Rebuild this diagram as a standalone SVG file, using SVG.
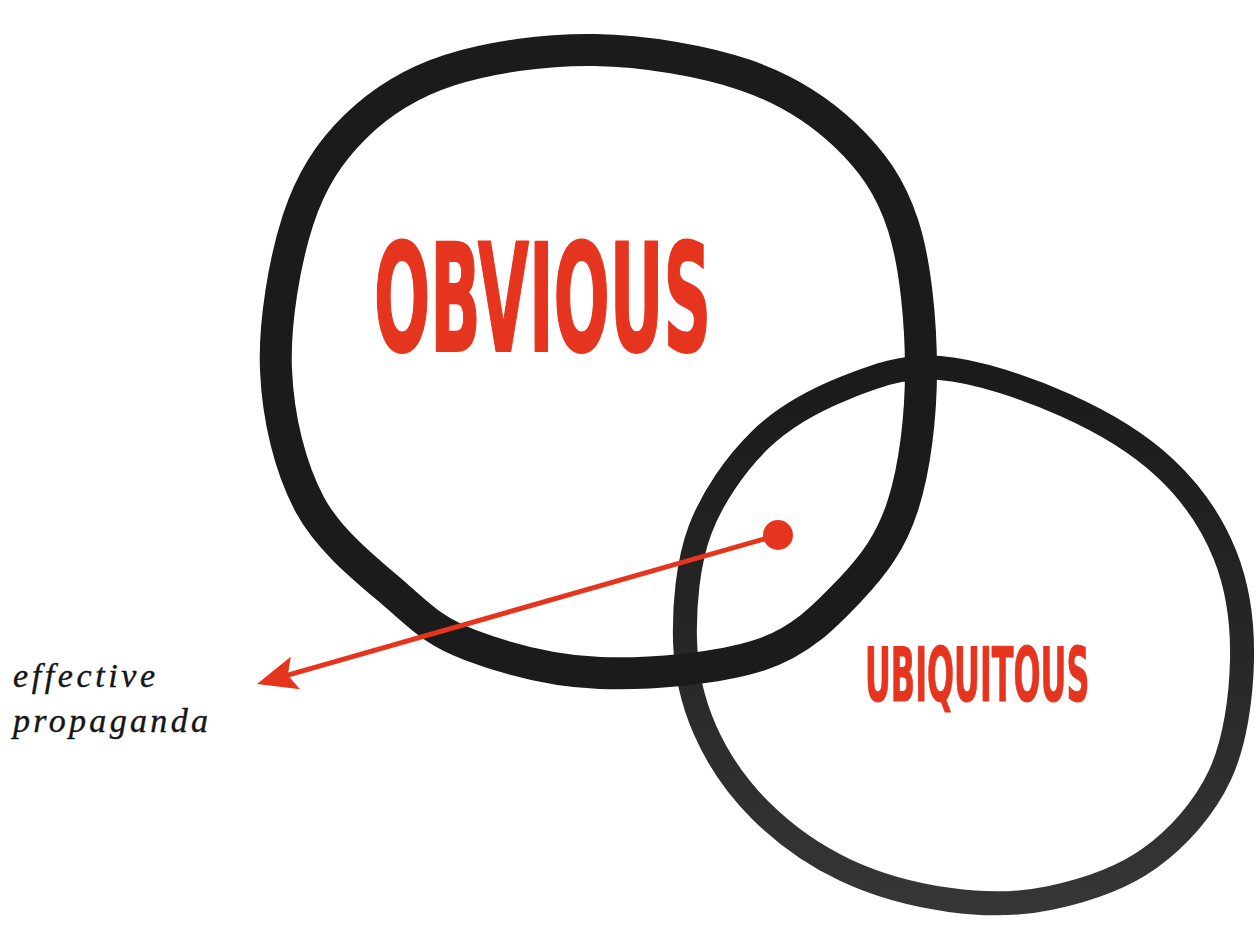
<svg xmlns="http://www.w3.org/2000/svg" width="1258" height="935" viewBox="0 0 1258 935">
  <style>
    .ring { fill: none; stroke-linejoin: round; stroke-linecap: round; }
    .big { stroke: #1b1b1b; stroke-width: 32; }
    .small { stroke: url(#smallShade); stroke-width: 24; }
    .label { fill: #e6351f; stroke: #e6351f; stroke-linejoin: round; font-family: "Liberation Sans Narrow", "DejaVu Sans Condensed", "Liberation Sans", sans-serif; font-weight: bold; }
    .note { fill: #151515; stroke: #151515; stroke-width: 0.4; font-family: "Liberation Serif", "DejaVu Serif", serif; font-style: italic; font-size: 34px; }
    .conn { stroke: #e6351f; stroke-width: 5; fill: none; }
  </style>
  <defs>
    <linearGradient id="smallShade" gradientUnits="userSpaceOnUse" x1="0" y1="360" x2="0" y2="910">
      <stop offset="0" stop-color="#1a1a1a"/>
      <stop offset="0.5" stop-color="#262626"/>
      <stop offset="1" stop-color="#363636"/>
    </linearGradient>
    <marker id="arrow" markerUnits="userSpaceOnUse" viewBox="0 0 40 34" markerWidth="40" markerHeight="34" refX="8" refY="17" orient="auto">
      <path d="M0,0 L40,17 L0,34 L8,17 Z" fill="#e6351f"/>
    </marker>
  </defs>
  <rect width="1258" height="935" fill="#ffffff"/>

  <g id="node-ubiquitous">
    <path class="ring small" d="M940,368 C976.7,370.8 1027.5,388.3 1065,405 C1102.5,421.7 1138.3,443 1165,468 C1191.7,493 1212.2,523 1225,555 C1237.8,587 1242.8,623.3 1242,660 C1241.2,696.7 1235.3,742 1220,775 C1204.7,808 1178.3,837.5 1150,858 C1121.7,878.5 1083.3,891 1050,898 C1016.7,905 984.2,904.7 950,900 C915.8,895.3 876.7,885 845,870 C813.3,855 783.3,833.3 760,810 C736.7,786.7 717.5,758.3 705,730 C692.5,701.7 685.8,673.3 685,640 C684.2,606.7 687.5,563.3 700,530 C712.5,496.7 735.8,463.7 760,440 C784.2,416.3 815,400 845,388 C875,376 903.3,365.2 940,368 Z"/>
    <text class="label" transform="translate(865,701) scale(0.6,1)" font-size="74" stroke-width="1" textLength="374" lengthAdjust="spacingAndGlyphs">UBIQUITOUS</text>
  </g>

  <g id="node-obvious">
    <path class="ring big" d="M921,370 C921,416.7 914.8,468.3 903,505 C891.2,541.7 873.8,565 850,590 C826.2,615 801.7,641.2 760,655 C718.3,668.8 648.3,674.7 600,673 C551.7,671.3 503.7,657.7 470,645 C436.3,632.3 424.7,620.3 398,597 C371.3,573.7 330.3,542.8 310,505 C289.7,467.2 278,417.5 276,370 C274,322.5 284.8,260.5 298,220 C311.2,179.5 329.7,152 355,127 C380.3,102 410,82.8 450,70 C490,57.2 545.8,49.2 595,50 C644.2,50.8 703.3,60.8 745,75 C786.7,89.2 818.7,110 845,135 C871.3,160 890.3,185.8 903,225 C915.7,264.2 921,323.3 921,370 Z"/>
    <text class="label" transform="translate(374,351) scale(0.6,1)" font-size="150" stroke-width="2" textLength="562" lengthAdjust="spacingAndGlyphs">OBVIOUS</text>
  </g>

  <g id="connectors">
    <line class="conn" x1="778" y1="535" x2="287.8" y2="675.2" marker-end="url(#arrow)"/>
    <circle cx="778" cy="535" r="15" fill="#e6351f"/>
  </g>

  <g id="node-effective-propaganda">
    <text class="note" x="13" y="687" textLength="142" lengthAdjust="spacing">effective</text>
    <text class="note" x="13" y="732" textLength="195" lengthAdjust="spacing">propaganda</text>
  </g>
</svg>
